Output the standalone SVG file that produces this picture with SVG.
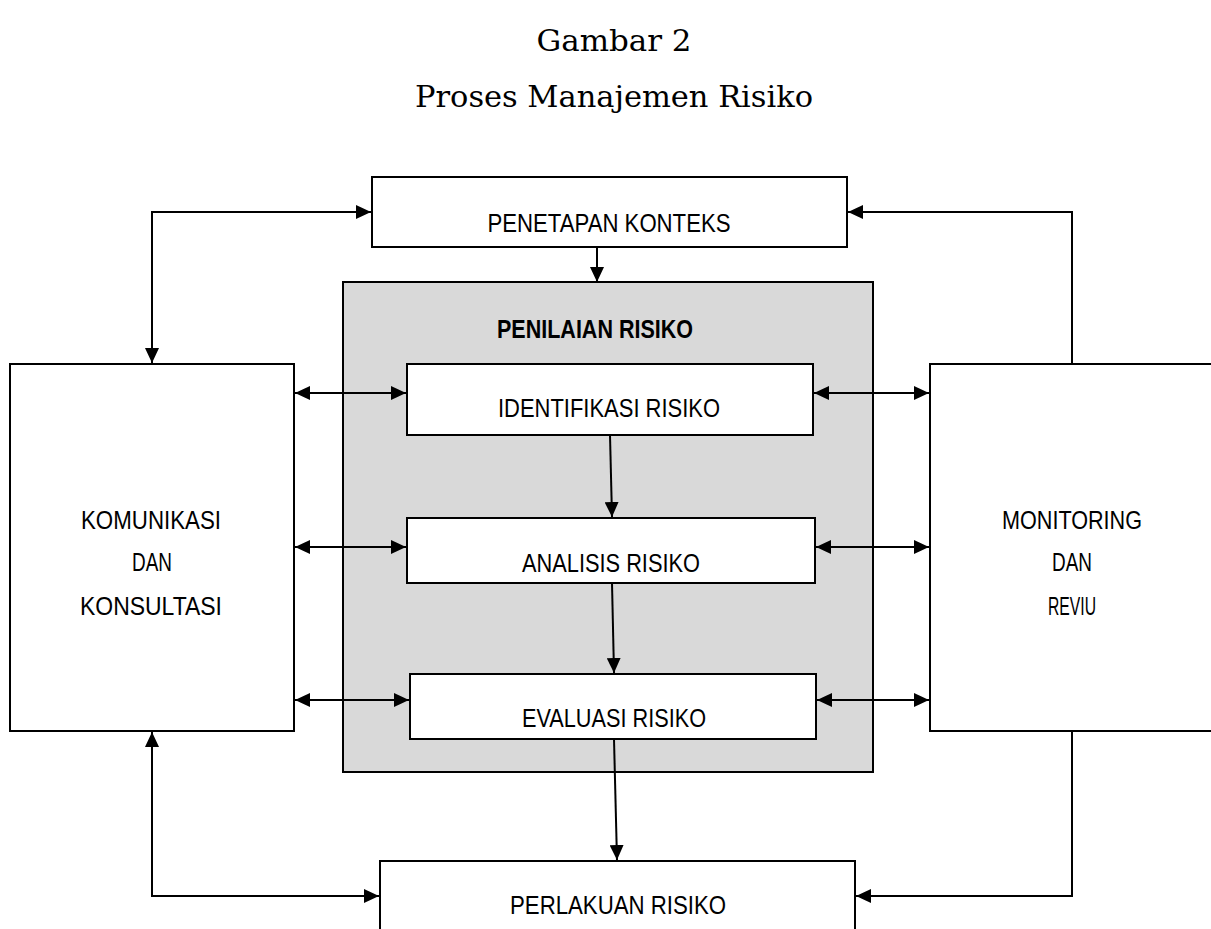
<svg xmlns="http://www.w3.org/2000/svg" width="1211" height="929" viewBox="0 0 1211 929">
<style>
.box{fill:#fff;stroke:#000;stroke-width:2}
.grp{fill:#d9d9d9;stroke:#000;stroke-width:2}
.lbl{font-family:"Liberation Sans Narrow","Liberation Sans",Arial,sans-serif;font-size:25px;fill:#000;text-anchor:middle}
.bold{font-weight:bold}
.ttl{font-family:"DejaVu Serif","Liberation Serif",serif;font-size:30px;fill:#000;text-anchor:middle}
.con{fill:none;stroke:#000;stroke-width:2}
</style>
<defs>
<marker id="ah" markerUnits="userSpaceOnUse" markerWidth="16" markerHeight="14" refX="15" refY="7" orient="auto-start-reverse">
<path d="M0,0 L15,7 L0,14 z" fill="#000"/>
</marker>
</defs>
<rect width="1211" height="929" fill="#fff"/>
<g id="title">
<text class="ttl" x="614" y="51" textLength="155" lengthAdjust="spacingAndGlyphs">Gambar 2</text>
<text class="ttl" x="614" y="107" textLength="398" lengthAdjust="spacingAndGlyphs">Proses Manajemen Risiko</text>
</g>
<g id="penetapan">
<rect class="box" x="372" y="177" width="475" height="70"/>
<text class="lbl" x="609" y="232" textLength="243" lengthAdjust="spacingAndGlyphs">PENETAPAN KONTEKS</text>
</g>
<g id="penilaian">
<rect class="grp" x="343" y="282" width="530" height="490"/>
<text class="lbl bold" x="595" y="338" textLength="196" lengthAdjust="spacingAndGlyphs">PENILAIAN RISIKO</text>
</g>
<g id="komunikasi">
<rect class="box" x="10" y="364" width="284" height="367"/>
<text class="lbl" x="151" y="529" textLength="140" lengthAdjust="spacingAndGlyphs">KOMUNIKASI</text>
<text class="lbl" x="152" y="571" textLength="40" lengthAdjust="spacingAndGlyphs">DAN</text>
<text class="lbl" x="151" y="615" textLength="142" lengthAdjust="spacingAndGlyphs">KONSULTASI</text>
</g>
<g id="monitoring">
<rect class="box" x="930" y="364" width="284" height="367"/>
<text class="lbl" x="1072" y="529" textLength="140" lengthAdjust="spacingAndGlyphs">MONITORING</text>
<text class="lbl" x="1072" y="571" textLength="40" lengthAdjust="spacingAndGlyphs">DAN</text>
<text class="lbl" x="1072" y="615" textLength="48" lengthAdjust="spacingAndGlyphs">REVIU</text>
</g>
<g id="identifikasi">
<rect class="box" x="407" y="364" width="406" height="71"/>
<text class="lbl" x="609" y="417" textLength="222" lengthAdjust="spacingAndGlyphs">IDENTIFIKASI RISIKO</text>
</g>
<g id="analisis">
<rect class="box" x="407" y="518" width="408" height="65"/>
<text class="lbl" x="611" y="572" textLength="178" lengthAdjust="spacingAndGlyphs">ANALISIS RISIKO</text>
</g>
<g id="evaluasi">
<rect class="box" x="410" y="674" width="406" height="65"/>
<text class="lbl" x="614" y="727" textLength="184" lengthAdjust="spacingAndGlyphs">EVALUASI RISIKO</text>
</g>
<g id="perlakuan">
<rect class="box" x="380" y="861" width="475" height="80"/>
<text class="lbl" x="618" y="914" textLength="216" lengthAdjust="spacingAndGlyphs">PERLAKUAN RISIKO</text>
</g>
<g id="connectors">
<path class="con" d="M152,363 V212 H371" marker-start="url(#ah)" marker-end="url(#ah)"/>
<path class="con" d="M1072,364 V212 H848" marker-end="url(#ah)"/>
<path class="con" d="M597,247 V282" marker-end="url(#ah)"/>
<path class="con" d="M295,393 H406" marker-start="url(#ah)" marker-end="url(#ah)"/>
<path class="con" d="M295,547 H406" marker-start="url(#ah)" marker-end="url(#ah)"/>
<path class="con" d="M295,700 H409" marker-start="url(#ah)" marker-end="url(#ah)"/>
<path class="con" d="M814,393 H929" marker-start="url(#ah)" marker-end="url(#ah)"/>
<path class="con" d="M816,547 H929" marker-start="url(#ah)" marker-end="url(#ah)"/>
<path class="con" d="M817,700 H929" marker-start="url(#ah)" marker-end="url(#ah)"/>
<path class="con" d="M610,435 L612,517" marker-end="url(#ah)"/>
<path class="con" d="M612,583 L614,673" marker-end="url(#ah)"/>
<path class="con" d="M614,739 L617,860" marker-end="url(#ah)"/>
<path class="con" d="M152,732 V896 H379" marker-start="url(#ah)" marker-end="url(#ah)"/>
<path class="con" d="M1072,731 V896 H856" marker-end="url(#ah)"/>
</g>
</svg>
